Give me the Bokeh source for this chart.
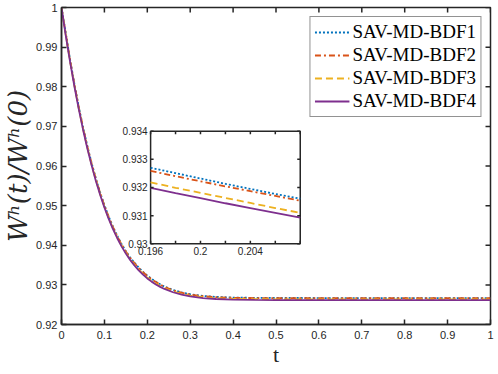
from bokeh.plotting import figure
from bokeh.models import Range1d, FixedTicker, Legend, LegendItem
from bokeh.embed import file_html
from bokeh.resources import INLINE
from bokeh.core.properties import value

# ---------------- data ----------------
t = [0.00, 0.01, 0.02, 0.03, 0.04, 0.05, 0.06, 0.07, 0.08, 0.09, 0.10, 0.11, 0.12, 0.13,
     0.14, 0.15, 0.16, 0.17, 0.18, 0.19, 0.20, 0.21, 0.22, 0.23, 0.24, 0.26, 0.28, 0.30,
     0.33, 0.36, 0.40, 0.45, 0.50, 0.60, 0.70, 0.80, 0.90, 1.00]

bdf1 = [1.00000, 0.99347, 0.98686, 0.98073, 0.97508, 0.96989, 0.96515, 0.96082, 0.95690,
        0.95334, 0.95013, 0.94725, 0.94467, 0.94237, 0.94032, 0.93851, 0.93691, 0.93559,
        0.93436, 0.93328, 0.93233, 0.93152, 0.93081, 0.93015, 0.92957, 0.92872, 0.92809,
        0.92764, 0.92721, 0.92697, 0.92680, 0.92672, 0.92669, 0.92668, 0.92668, 0.92668,
        0.92668, 0.92668]
bdf2 = [1.00000, 0.99337, 0.98676, 0.98063, 0.97498, 0.96979, 0.96505, 0.96072, 0.95680,
        0.95324, 0.95003, 0.94715, 0.94457, 0.94227, 0.94022, 0.93841, 0.93681, 0.93549,
        0.93426, 0.93318, 0.93223, 0.93142, 0.93071, 0.93006, 0.92950, 0.92864, 0.92802,
        0.92757, 0.92715, 0.92691, 0.92674, 0.92666, 0.92663, 0.92662, 0.92662, 0.92662,
        0.92662, 0.92662]
bdf3 = [1.00000, 0.99307, 0.98646, 0.98033, 0.97468, 0.96949, 0.96475, 0.96042, 0.95650,
        0.95294, 0.94973, 0.94685, 0.94427, 0.94197, 0.93992, 0.93811, 0.93651, 0.93509,
        0.93386, 0.93278, 0.93183, 0.93102, 0.93031, 0.92970, 0.92917, 0.92834, 0.92774,
        0.92730, 0.92688, 0.92664, 0.92647, 0.92639, 0.92636, 0.92635, 0.92635, 0.92635,
        0.92635, 0.92635]
bdf4 = [1.00000, 0.99287, 0.98626, 0.98013, 0.97448, 0.96929, 0.96455, 0.96022, 0.95630,
        0.95274, 0.94953, 0.94665, 0.94407, 0.94177, 0.93972, 0.93791, 0.93631, 0.93489,
        0.93366, 0.93258, 0.93163, 0.93082, 0.93011, 0.92950, 0.92897, 0.92814, 0.92754,
        0.92710, 0.92668, 0.92644, 0.92627, 0.92619, 0.92616, 0.92615, 0.92615, 0.92615,
        0.92615, 0.92615]

# zoomed window
inset_t = [0.196, 0.198, 0.200, 0.202, 0.204, 0.206, 0.208]
inset_bdf1 = [0.93270, 0.93251, 0.93232, 0.93213, 0.93195, 0.93177, 0.93160]
inset_bdf2 = [0.93259, 0.93240, 0.93222, 0.93204, 0.93187, 0.93170, 0.93153]
inset_bdf3 = [0.93218, 0.93199, 0.93181, 0.93163, 0.93145, 0.93127, 0.93110]
inset_bdf4 = [0.93199, 0.93180, 0.93162, 0.93144, 0.93127, 0.93110, 0.93093]

series_names = ["SAV-MD-BDF1", "SAV-MD-BDF2", "SAV-MD-BDF3", "SAV-MD-BDF4"]

x_ticks = [0.0, 0.1, 0.2, 0.3, 0.4, 0.5, 0.6, 0.7, 0.8, 0.9, 1.0]
x_tick_labels = ["0", "0.1", "0.2", "0.3", "0.4", "0.5", "0.6", "0.7", "0.8", "0.9", "1"]
y_ticks = [0.92, 0.93, 0.94, 0.95, 0.96, 0.97, 0.98, 0.99, 1.0]
y_tick_labels = ["0.92", "0.93", "0.94", "0.95", "0.96", "0.97", "0.98", "0.99", "1"]

inset_x_ticks = [0.196, 0.198, 0.200, 0.202, 0.204, 0.206, 0.208]
inset_x_label_ticks = [0.196, 0.200, 0.204]
inset_x_labels = ["0.196", "0.2", "0.204"]
inset_y_ticks = [0.930, 0.931, 0.932, 0.933, 0.934]
inset_y_labels = ["0.93", "0.931", "0.932", "0.933", "0.934"]

# ---------------- styles ----------------
colors = ["#0072BD", "#D95319", "#EDB120", "#7E2F8E"]
dashes = ["2 2", "6 3 2 3", "7 4", "solid"]
AX = "#262626"
X0, X1 = 0.0, 1.0
Y0, Y1 = 0.92, 1.0

p = figure(width=498, height=374, x_range=Range1d(X0, X1), y_range=Range1d(Y0, Y1),
           output_backend="svg", toolbar_location=None,
           min_border_left=60, min_border_right=8, min_border_top=7, min_border_bottom=50)
p.xgrid.visible = False
p.ygrid.visible = False
p.outline_line_color = AX
p.outline_line_width = 1.5
p.background_fill_color = "white"
p.border_fill_color = "white"

for ax, ticks, labels in [(p.xaxis[0], x_ticks, x_tick_labels), (p.yaxis[0], y_ticks, y_tick_labels)]:
    ax.ticker = FixedTicker(ticks=ticks)
    ax.major_label_overrides = {tk: lb for tk, lb in zip(ticks, labels)}
    ax.major_tick_in = 5
    ax.major_tick_out = 0
    ax.minor_tick_line_color = None
    ax.major_tick_line_color = AX
    ax.major_tick_line_width = 1.5
    ax.axis_line_color = AX
    ax.axis_line_width = 1.5
    ax.major_label_text_font = "Liberation Sans"
    ax.major_label_text_font_size = "11px"
    ax.major_label_text_color = AX

p.xaxis.major_label_standoff = 6
p.yaxis.major_label_standoff = 4
p.xaxis.axis_label = "t"
p.xaxis.axis_label_text_font = "Liberation Serif"
p.xaxis.axis_label_text_font_style = "normal"
p.xaxis.axis_label_text_font_size = "22px"
p.xaxis.axis_label_text_color = AX
p.xaxis.axis_label_standoff = 0
p.yaxis.axis_label = "Wʰ(t)/Wʰ(0)"
p.yaxis.axis_label_text_font = "DejaVu Serif"
p.yaxis.axis_label_text_font_style = "italic"
p.yaxis.axis_label_text_font_size = "26px"
p.yaxis.axis_label_text_color = AX
p.yaxis.axis_label_standoff = 0

# inward ticks on the top and right edges of the box
tick_dy = (Y1 - Y0) * 5 / 317
tick_dx = (X1 - X0) * 5 / 430
p.segment(x0=x_ticks, y0=[Y1] * len(x_ticks), x1=x_ticks, y1=[Y1 - tick_dy] * len(x_ticks),
          line_color=AX, line_width=1.5)
p.segment(x0=[X1] * len(y_ticks), y0=y_ticks, x1=[X1 - tick_dx] * len(y_ticks), y1=y_ticks,
          line_color=AX, line_width=1.5)

renderers = []
for ys, c, d in zip([bdf1, bdf2, bdf3, bdf4], colors, dashes):
    r = p.line(t, ys, line_color=c, line_dash=d, line_width=1.8)
    renderers.append(r)

# ---------------- inset ----------------
ix0, ix1 = inset_x_ticks[0], inset_x_ticks[-1]
iy0, iy1 = inset_y_ticks[0], inset_y_ticks[-1]
sub = p.subplot(x_source=Range1d(ix0, ix1), y_source=Range1d(iy0, iy1),
                x_target=Range1d(0.2077, 0.5565), y_target=Range1d(0.94037, 0.96878))
sub.quad(left=[ix0], right=[ix1], bottom=[iy0], top=[iy1],
         fill_color="white", line_color=AX, line_width=1.5)
for ys, c, d in zip([inset_bdf1, inset_bdf2, inset_bdf3, inset_bdf4], colors, dashes):
    sub.line(inset_t, ys, line_color=c, line_dash=d, line_width=1.8)

tdy = (iy1 - iy0) * 0.027
tdx = (ix1 - ix0) * 0.02
n = len(inset_x_ticks)
m = len(inset_y_ticks)
sub.segment(x0=inset_x_ticks, y0=[iy0] * n, x1=inset_x_ticks, y1=[iy0 + tdy] * n,
            line_color=AX, line_width=1.5)
sub.segment(x0=inset_x_ticks, y0=[iy1] * n, x1=inset_x_ticks, y1=[iy1 - tdy] * n,
            line_color=AX, line_width=1.5)
sub.segment(x0=[ix0] * m, y0=inset_y_ticks, x1=[ix0 + tdx] * m, y1=inset_y_ticks,
            line_color=AX, line_width=1.5)
sub.segment(x0=[ix1] * m, y0=inset_y_ticks, x1=[ix1 - tdx] * m, y1=inset_y_ticks,
            line_color=AX, line_width=1.5)
sub.text(x=inset_x_label_ticks, y=[iy0] * len(inset_x_label_ticks), text=inset_x_labels,
         text_align="center", text_baseline="top", y_offset=3,
         text_font=value("Liberation Sans"), text_font_size="10px", text_color=AX)
sub.text(x=[ix0] * m, y=inset_y_ticks, text=inset_y_labels, text_align="right",
         text_baseline="middle", x_offset=-3, text_font=value("Liberation Sans"),
         text_font_size="10px", text_color=AX)

# ---------------- legend ----------------
legend = Legend(items=[LegendItem(label=nm, renderers=[r]) for nm, r in zip(series_names, renderers)],
                location="top_right", margin=9, padding=4, spacing=1,
                glyph_width=35, glyph_height=20, label_height=20, label_standoff=3,
                label_text_font="Liberation Serif", label_text_font_size="19px",
                label_text_color="black", border_line_color=AX, border_line_width=1.2,
                background_fill_color="white", background_fill_alpha=1.0)
p.add_layout(legend)

open("out.html", "w").write(file_html(p, INLINE))
